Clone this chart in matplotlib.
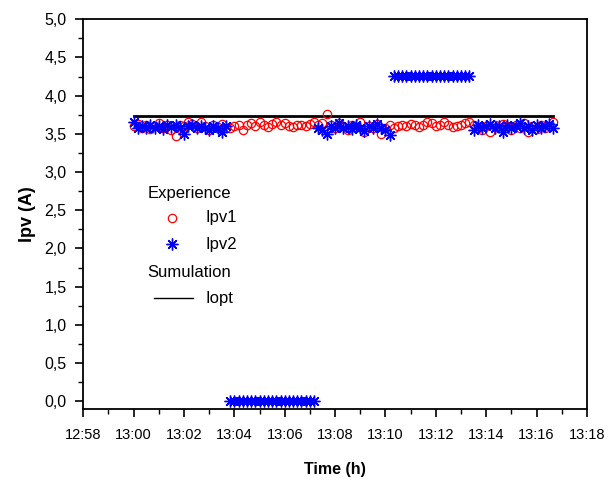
import matplotlib.pyplot as plt
import numpy as np
from matplotlib.lines import Line2D

plt.rcParams['font.family'] = ['Liberation Sans', 'DejaVu Sans']

# time in seconds after 13:00:00, one sample every 10 s
t_sec = np.arange(0, 1001, 10)

ipv1 = [3.60, 3.63, 3.58, 3.62, 3.56, 3.60, 3.64, 3.57, 3.61, 3.55, 3.47, 3.62,
        3.60, 3.66, 3.63, 3.58, 3.65, 3.60, 3.55, 3.62, 3.59, 3.63, 3.57,
        3.58, 3.60, 3.62, 3.55, 3.61, 3.64, 3.60, 3.66, 3.62, 3.59, 3.63, 3.65,
        3.61, 3.64, 3.60, 3.59, 3.61, 3.62, 3.60, 3.63, 3.66, 3.62, 3.64,
        3.76,
        3.62, 3.58, 3.64, 3.60, 3.55, 3.62, 3.59, 3.65, 3.52, 3.60, 3.57, 3.63,
        3.50, 3.58, 3.61,
        3.58, 3.60, 3.62, 3.60, 3.63, 3.61, 3.59, 3.62, 3.66, 3.64, 3.60, 3.62,
        3.65, 3.61, 3.59, 3.60, 3.62, 3.64, 3.66,
        3.62, 3.58, 3.55, 3.60, 3.52, 3.61, 3.58, 3.63, 3.60, 3.55, 3.62, 3.57,
        3.64, 3.53, 3.60, 3.56, 3.62, 3.58, 3.60, 3.66]

ipv2 = [3.65, 3.58, 3.60, 3.57, 3.62, 3.58, 3.60, 3.56, 3.61, 3.59, 3.62, 3.57,
        3.50, 3.60, 3.62, 3.58, 3.60, 3.57, 3.55, 3.60, 3.58, 3.52, 3.60,
        0.0, 0.0, 0.0, 0.0, 0.0, 0.0, 0.0, 0.0, 0.0, 0.0, 0.0, 0.0, 0.0, 0.0,
        0.0, 0.0, 0.0, 0.0, 0.0, 0.0, 0.0,
        3.58, 3.55, 3.50, 3.60, 3.57, 3.64, 3.58, 3.60, 3.56, 3.62, 3.58, 3.54,
        3.60, 3.57, 3.63, 3.58, 3.55, 3.48,
        4.26, 4.26, 4.26, 4.26, 4.26, 4.26, 4.26, 4.26, 4.26, 4.26, 4.26, 4.26,
        4.26, 4.26, 4.26, 4.26, 4.26, 4.26, 4.26,
        3.55, 3.62, 3.58, 3.60, 3.63, 3.57, 3.60, 3.52, 3.62, 3.58, 3.60, 3.64,
        3.58, 3.60, 3.55, 3.62, 3.58, 3.60, 3.63, 3.57]

iopt = 3.73

x_ticks_min = np.arange(-2, 19, 2)
x_labels = ["12:58", "13:00", "13:02", "13:04", "13:06", "13:08",
            "13:10", "13:12", "13:14", "13:16", "13:18"]
y_ticks = np.arange(0, 5.01, 0.5)
y_labels = ["0,0", "0,5", "1,0", "1,5", "2,0", "2,5", "3,0", "3,5", "4,0", "4,5", "5,0"]

t_min = t_sec / 60.0
star = (8, 2, 0)

fig = plt.figure(figsize=(6.12, 4.8), dpi=100)
ax = fig.add_axes([0.136, 0.148, 0.823, 0.812])

ax.plot(t_min, [iopt] * len(t_min), color='black', lw=2.0, zorder=2)
ax.plot(t_min, ipv1, linestyle='none', marker='o', ms=6, mfc='none',
        mec='red', mew=0.9, zorder=3)
ax.plot(t_min, ipv2, linestyle='none', marker=star, ms=8.5, color='blue',
        mew=1.0, zorder=4)

ax.set_xlim(-2, 18)
ax.set_ylim(-0.1, 5.0)
ax.set_xticks(x_ticks_min)
ax.set_xticklabels(x_labels, fontsize=10.5)
ax.set_xticks(np.arange(-2, 18.5, 1), minor=True)
ax.set_yticks(y_ticks)
ax.set_yticklabels(y_labels, fontsize=11.5)
ax.set_yticks(np.arange(0, 5.01, 0.25), minor=True)
ax.tick_params(which='major', direction='out', length=6, width=1.2, pad=6)
ax.tick_params(which='minor', direction='out', length=3.5, width=1.0)
ax.tick_params(axis='x', which='major', pad=8)
for s in ax.spines.values():
    s.set_linewidth(1.3)

ax.set_ylabel("Ipv (A)", fontsize=13, fontweight='bold', labelpad=6)
ax.set_xlabel("Time (h)", fontsize=11.5, fontweight='bold', labelpad=14)

# hand-built key
fs = 12
ax.text(0.128, 0.553, "Experience", transform=ax.transAxes, fontsize=fs,
        va='center')
ax.add_line(Line2D([0.176], [0.49], transform=ax.transAxes, marker='o',
                   ms=6, mfc='none', mec='red', mew=0.9))
ax.text(0.242, 0.49, "Ipv1", transform=ax.transAxes, fontsize=fs, va='center')
ax.add_line(Line2D([0.176], [0.423], transform=ax.transAxes, marker=star,
                   ms=8.5, color='blue', mew=1.0))
ax.text(0.242, 0.423, "Ipv2", transform=ax.transAxes, fontsize=fs, va='center')
ax.text(0.128, 0.35, "Sumulation", transform=ax.transAxes, fontsize=fs,
        va='center')
ax.add_line(Line2D([0.141, 0.218], [0.284, 0.284], transform=ax.transAxes,
                   color='black', lw=1.0))
ax.text(0.242, 0.284, "Iopt", transform=ax.transAxes, fontsize=fs, va='center')

fig.savefig("out.png", dpi=100)
